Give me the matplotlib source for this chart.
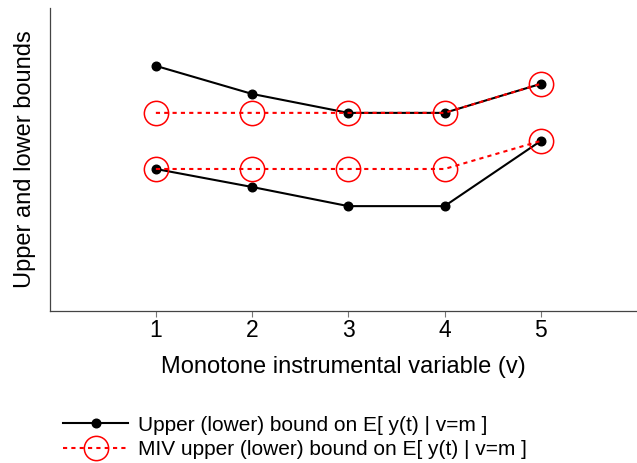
import numpy as np
import matplotlib
matplotlib.use("Agg")
import matplotlib.pyplot as plt

plt.rcParams['font.family'] = ['Liberation Sans', 'DejaVu Sans']

# values (arbitrary units)
v = [1, 2, 3, 4, 5]
upper = [12.94, 11.46, 10.46, 10.46, 11.99]
lower = [7.50, 6.55, 5.54, 5.54, 8.98]
miv_upper = [10.46, 10.46, 10.46, 10.46, 11.99]
miv_lower = [7.50, 7.50, 7.50, 7.50, 8.98]

lab_bound = "Upper (lower) bound on E[ y(t) | v=m ]"
lab_miv = "MIV upper (lower) bound on E[ y(t) | v=m ]"

fig = plt.figure(figsize=(6.37, 4.63), dpi=100)
ax = fig.add_axes([0.0785, 0.328, 0.9215, 0.655])

l1, = ax.plot(v, upper, color="black", lw=1.5, marker="o", ms=6.2, zorder=3)
ax.plot(v, lower, color="black", lw=1.5, marker="o", ms=6.2, zorder=3)
l2, = ax.plot(v, miv_upper, color="red", lw=1.5, ls=(0, (2, 2)), marker="o",
              ms=17.5, mfc="none", mec="red", mew=1.1, zorder=4)
ax.plot(v, miv_lower, color="red", lw=1.5, ls=(0, (2, 2)), marker="o",
        ms=17.5, mfc="none", mec="red", mew=1.1, zorder=4)

ax.set_xlim(-0.1, 6.0)
ax.set_ylim(0, 16)
ax.set_xticks(v)
ax.set_yticks([])
ax.spines["top"].set_visible(False)
ax.spines["right"].set_visible(False)
for s in ["left", "bottom"]:
    ax.spines[s].set_color("#444444")
    ax.spines[s].set_linewidth(0.9)
ax.tick_params(axis="x", length=4, color="#777777", labelsize=16.5, pad=2)
ax.set_xlabel("Monotone instrumental variable (v)", fontsize=17, labelpad=10)
ax.set_ylabel("Upper and lower bounds", fontsize=17, labelpad=10)

fig.legend([l1, l2], [lab_bound, lab_miv], loc="lower left",
           bbox_to_anchor=(0.093, 0.0), frameon=False, fontsize=15,
           handlelength=3.1, handletextpad=0.5, labelspacing=0.25,
           borderaxespad=0.0, borderpad=0.2)

fig.savefig("out.png", dpi=100)
